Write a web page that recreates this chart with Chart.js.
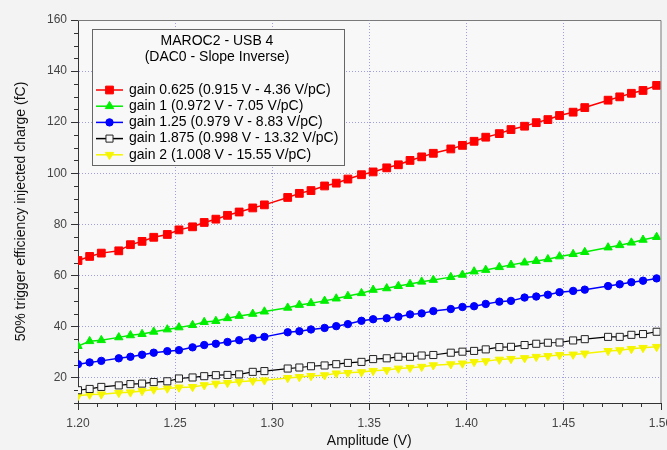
<!DOCTYPE html>
<html>
<head>
<meta charset="utf-8">
<script src="https://cdn.jsdelivr.net/npm/chart.js@4.4.1/dist/chart.umd.min.js"></script>
<style>
  html, body { margin: 0; padding: 0; background: #f3f3f3; }
</style>
</head>
<body>
<canvas id="grafico" width="667" height="450"></canvas>
<script>
// amplitudes do scan (V)
var amplitudes = [1.200, 1.206, 1.212, 1.221, 1.227, 1.233, 1.239, 1.246, 1.252, 1.259,
    1.265, 1.271, 1.277, 1.283, 1.290, 1.296, 1.308, 1.314, 1.320, 1.327,
    1.333, 1.339, 1.346, 1.352, 1.359, 1.365, 1.371, 1.377, 1.383, 1.392,
    1.398, 1.404, 1.410, 1.417, 1.423, 1.430, 1.436, 1.442, 1.448, 1.455,
    1.461, 1.473, 1.479, 1.485, 1.491, 1.498];

// carga injetada (fC) para cada ganho
var gain0625 = [65.8, 67.4, 68.7, 69.6, 72.0, 73.3, 74.9, 76.0, 77.8, 79.0,
    80.7, 82.0, 83.5, 84.8, 86.4, 87.6, 90.5, 92.1, 93.2, 95.0,
    96.1, 97.7, 99.4, 100.5, 102.1, 103.3, 105.0, 106.4, 107.8, 109.5,
    110.9, 112.5, 114.1, 115.5, 117.1, 118.4, 119.8, 121.0, 122.6, 123.9,
    125.7, 128.6, 129.9, 131.3, 132.4, 134.4];
var gain1 = [32.3, 34.2, 34.6, 35.7, 36.5, 37.0, 37.9, 38.8, 39.6, 40.5,
    41.7, 42.1, 43.2, 44.1, 44.9, 45.8, 47.3, 48.4, 49.1, 50.0,
    50.9, 51.9, 53.0, 54.3, 54.9, 55.8, 56.6, 57.5, 58.2, 59.3,
    60.2, 61.5, 62.1, 63.2, 64.1, 65.0, 65.6, 66.3, 67.4, 68.3,
    69.1, 70.9, 71.8, 72.8, 73.9, 75.0];
var gain125 = [25.2, 25.9, 26.5, 27.5, 28.1, 28.9, 29.7, 30.3, 30.7, 31.8,
    32.7, 33.2, 33.9, 34.6, 35.4, 35.9, 37.7, 38.1, 38.8, 39.4,
    40.1, 40.9, 42.2, 42.8, 43.2, 43.8, 44.7, 45.1, 46.0, 46.8,
    47.6, 47.9, 48.8, 49.7, 50.0, 51.3, 51.7, 52.4, 53.4, 53.9,
    54.4, 55.8, 56.5, 57.3, 57.9, 58.8];
var gain1875 = [15.0, 15.5, 16.3, 16.9, 17.4, 17.6, 18.2, 18.5, 19.6, 20.0,
    20.5, 20.9, 21.0, 21.2, 22.2, 22.5, 23.5, 23.9, 24.4, 24.7,
    25.2, 25.7, 26.1, 27.2, 27.5, 28.1, 28.1, 28.6, 28.8, 29.7,
    30.1, 30.4, 31.0, 31.9, 32.0, 32.7, 33.2, 33.6, 33.7, 34.5,
    35.0, 35.9, 35.9, 36.7, 37.0, 37.9];
var gain2 = [12.8, 13.3, 13.4, 14.0, 14.2, 14.7, 15.3, 15.7, 16.1, 16.3,
    17.0, 17.6, 17.9, 18.3, 18.7, 18.9, 19.8, 20.2, 20.6, 20.9,
    21.6, 21.8, 22.1, 22.6, 22.9, 23.5, 23.8, 24.2, 24.8, 25.2,
    25.5, 26.1, 26.4, 27.0, 27.3, 27.6, 28.1, 28.4, 28.8, 29.0,
    29.4, 30.4, 30.7, 31.2, 31.6, 32.0];

var seriesLabels = ['gain 0.625 (0.915 V - 4.36 V/pC)', 'gain 1 (0.972 V - 7.05 V/pC)',
    'gain 1.25 (0.979 V - 8.83 V/pC)', 'gain 1.875 (0.998 V - 13.32 V/pC)',
    'gain 2 (1.008 V - 15.55 V/pC)'];
var legendTitle = ['MAROC2 - USB 4', '(DAC0 - Slope Inverse)'];
var xTicks = [1.20, 1.25, 1.30, 1.35, 1.40, 1.45, 1.50];
var yTicks = [20, 40, 60, 80, 100, 120, 140, 160];

var FONT = "'Liberation Sans', Arial, sans-serif";
var corFundo = '#f3f3f3';
var corPlot = '#f8f8f8';
var corGrade = '#9e9ee0';

function pontos(ys) {
    return ys.map(function (y, i) { return { x: amplitudes[i], y: y }; });
}

function serie(label, ys, cor, estilo, raio, extra) {
    var ds = {
        label: label,
        data: pontos(ys),
        borderColor: cor,
        backgroundColor: cor,
        borderWidth: 1.5,
        pointStyle: estilo,
        pointRadius: raio,
        pointBorderWidth: 1,
        pointBackgroundColor: cor,
        pointBorderColor: cor,
        tension: 0
    };
    for (var k in extra) ds[k] = extra[k];
    return ds;
}

// fundo, moldura, ticks menores e a legenda dentro do grafico
var decoracao = {
    id: 'decoracao',
    beforeDraw: function (chart) {
        var ctx = chart.ctx, a = chart.chartArea;
        ctx.save();
        ctx.fillStyle = corFundo;
        ctx.fillRect(0, 0, chart.width, chart.height);
        ctx.fillStyle = corPlot;
        ctx.fillRect(a.left, a.top, a.right - a.left, a.bottom - a.top);
        ctx.restore();
    },
    afterDraw: function (chart) {
        var ctx = chart.ctx, a = chart.chartArea;
        var sx = chart.scales.x, sy = chart.scales.y;
        ctx.save();
        // moldura superior e direita
        ctx.strokeStyle = '#7a7a7a';
        ctx.lineWidth = 1;
        ctx.beginPath();
        ctx.moveTo(a.left, a.top + 0.5);
        ctx.lineTo(a.right + 0.5, a.top + 0.5);
        ctx.lineTo(a.right + 0.5, a.bottom);
        ctx.stroke();

        // ticks
        ctx.strokeStyle = '#333';
        ctx.beginPath();
        for (var v = 10; v <= 160; v += 5) {
            var py = Math.round(sy.getPixelForValue(v)) + 0.5;
            var len = (v % 20 === 0) ? 7 : 4;
            ctx.moveTo(a.left - len, py);
            ctx.lineTo(a.left, py);
        }
        for (var i = 0; i <= 30; i++) {
            var px = Math.round(sx.getPixelForValue(1.2 + i * 0.01)) + 0.5;
            var l = (i % 5 === 0) ? 7 : 4;
            ctx.moveTo(px, a.bottom);
            ctx.lineTo(px, a.bottom + l);
        }
        ctx.stroke();

        // legenda
        var bx = 92, by = 29, bw = 252, bh = 136;
        ctx.fillStyle = corPlot;
        ctx.fillRect(bx, by, bw, bh);
        ctx.strokeStyle = '#666';
        ctx.strokeRect(bx + 0.5, by + 0.5, bw, bh);
        ctx.fillStyle = '#000';
        ctx.font = '14px ' + FONT;
        ctx.textBaseline = 'middle';
        ctx.textAlign = 'center';
        ctx.fillText(legendTitle[0], bx + bw / 2 - 1, 41);
        ctx.fillText(legendTitle[1], bx + bw / 2 - 1, 57);
        ctx.textAlign = 'left';
        chart.data.datasets.forEach(function (ds, j) {
            var yy = 90 + j * 16.2;
            ctx.strokeStyle = ds.borderColor;
            ctx.lineWidth = 1.5;
            ctx.beginPath();
            ctx.moveTo(96, yy);
            ctx.lineTo(123, yy);
            ctx.stroke();
            ctx.fillStyle = ds.pointBackgroundColor;
            ctx.strokeStyle = ds.pointBorderColor;
            ctx.lineWidth = 1;
            Chart.helpers.drawPoint(ctx, {
                pointStyle: ds.pointStyle,
                radius: ds.pointRadius,
                rotation: ds.pointRotation || 0,
                borderWidth: 1
            }, 109.5, yy);
            ctx.fillStyle = '#000';
            ctx.fillText(ds.label, 129, yy);
        });
        ctx.restore();
    }
};

var ctx = document.getElementById('grafico');
new Chart(ctx, {
    type: 'line',
    data: {
        datasets: [
            serie(seriesLabels[0], gain0625, '#ff0000', 'rect', 5.5, {}),
            serie(seriesLabels[1], gain1, '#00ee00', 'triangle', 4.8, {}),
            serie(seriesLabels[2], gain125, '#0000ff', 'circle', 3.7, {}),
            serie(seriesLabels[3], gain1875, '#000000', 'rect', 5, {
                pointBackgroundColor: corPlot, pointBorderColor: '#222', borderWidth: 1.2
            }),
            serie(seriesLabels[4], gain2, '#f5f500', 'triangle', 4.8, { pointRotation: 180 })
        ]
    },
    options: {
        responsive: false,
        animation: false,
        layout: { padding: { top: 20, right: 2, left: 0, bottom: 0 } },
        plugins: {
            legend: { display: false },
            tooltip: { enabled: false }
        },
        scales: {
            x: {
                type: 'linear',
                min: 1.2,
                max: 1.5,
                afterBuildTicks: function (s) {
                    s.ticks = xTicks.map(function (v) { return { value: v }; });
                },
                afterFit: function (s) {
                    s.height = 47;
                    s.paddingLeft = 0;
                    s.paddingRight = 0;
                },
                ticks: {
                    autoSkip: false,
                    maxRotation: 0,
                    padding: 13,
                    color: '#444',
                    font: { family: FONT, size: 12 },
                    callback: function (v) { return Number(v).toFixed(2); }
                },
                grid: {
                    drawTicks: false,
                    color: function (c) {
                        return (c.index === 0 || c.index === xTicks.length - 1) ? 'rgba(0,0,0,0)' : corGrade;
                    }
                },
                border: { color: '#333', width: 1, dash: [1, 2] },
                title: {
                    display: true,
                    text: 'Amplitude (V)',
                    color: '#111',
                    font: { family: FONT, size: 14 },
                    padding: { top: 0, bottom: 0 }
                }
            },
            y: {
                type: 'linear',
                min: 10,
                max: 160,
                afterBuildTicks: function (s) {
                    s.ticks = yTicks.map(function (v) { return { value: v }; });
                },
                afterFit: function (s) {
                    s.width = 78;
                    s.paddingTop = 0;
                    s.paddingBottom = 0;
                },
                ticks: {
                    padding: 11,
                    color: '#444',
                    font: { family: FONT, size: 12 }
                },
                grid: {
                    drawTicks: false,
                    color: function (c) {
                        return (c.index === yTicks.length - 1) ? 'rgba(0,0,0,0)' : corGrade;
                    }
                },
                border: { color: '#333', width: 1, dash: [1, 2] },
                title: {
                    display: true,
                    text: '50% trigger efficiency injected charge (fC)',
                    color: '#111',
                    font: { family: FONT, size: 14 },
                    padding: { top: 13, bottom: 0 }
                }
            }
        }
    },
    plugins: [decoracao]
});
</script>
</body>
</html>
